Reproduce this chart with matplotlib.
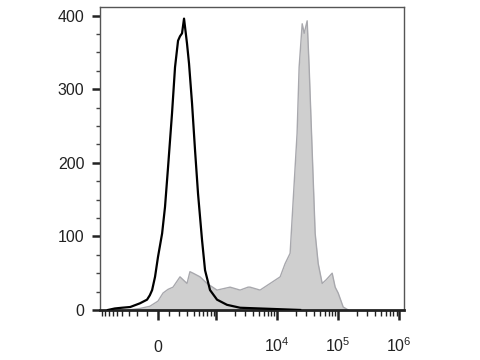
import numpy as np
import matplotlib
matplotlib.use("Agg")
import matplotlib.pyplot as plt
from matplotlib.ticker import FixedLocator, FixedFormatter

plt.rcParams['font.family'] = ['Liberation Sans', 'DejaVu Sans']
plt.rcParams['mathtext.default'] = 'regular'

# ── Data (fluorescence intensity vs. cell count) ──────────────────────────
ctrl_x = [-720, -550, -410, -280, -165, -95, -70, -50, -25, 0, 35, 60, 87,
          124, 154, 186, 208, 232, 257, 297, 326, 373, 425, 482, 568, 641,
          781, 1025, 1500, 2470, 5250, 11200, 23800]
ctrl_y = [0, 2, 3, 4, 9, 14, 20, 27, 45, 72, 104, 140, 194,
          267, 330, 366, 372, 376, 396, 362, 335, 281, 217, 158, 95, 54,
          27, 14, 7, 3, 2, 1, 0]

stain_x = [-310, -165, -70, 0, 43, 87, 134, 208, 297, 340, 390, 524, 694,
           1025, 1690, 2470, 3340, 3600, 5250, 7670, 11200, 13500, 16300,
           18300, 21200, 22900, 25700, 27700, 31000, 33400, 37400, 41900,
           47000, 54600, 63500, 79600, 89100, 99800, 120500, 145600]
stain_y = [0, 2, 5, 12, 23, 28, 31, 45, 36, 52, 50, 45, 36,
           27, 31, 27, 31, 31, 27, 36, 45, 63, 77,
           149, 240, 330, 389, 376, 393, 330, 217, 104,
           63, 36, 41, 50, 31, 23, 4, 0]

x_major = [-1000, 0, 1000, 1e4, 1e5, 1e6]
x_major_labels = ["", "0", "", "$10^4$", "$10^5$", "$10^6$"]
x_minor = ([-900, -800, -700, -600, -500, -400, -300, -200, -100,
            100, 200, 300, 400, 500, 600, 700, 800, 900]
           + [m * 10 ** e for e in (3, 4, 5) for m in range(2, 10)])

C = 224.0


def fwd(x):
    return np.arcsinh(np.asarray(x, dtype=float) / C)


def inv(y):
    return C * np.sinh(np.asarray(y, dtype=float))


fig = plt.figure(figsize=(4.8, 3.6), dpi=100)
ax = fig.add_axes([0.208, 0.139, 0.634, 0.842])
ax.set_xscale("function", functions=(fwd, inv))

ax.fill_between(stain_x, stain_y, 0, color="#cfcfcf", zorder=1, linewidth=0)
ax.plot(stain_x, stain_y, color="#a8a8ad", lw=1.0, zorder=2)
ax.plot(ctrl_x, ctrl_y, color="black", lw=1.6, zorder=3)

ax.set_xlim(-990, 1.2e6)
ax.set_ylim(0, 412)

ax.xaxis.set_major_locator(FixedLocator(x_major))
ax.xaxis.set_major_formatter(FixedFormatter(x_major_labels))
ax.xaxis.set_minor_locator(FixedLocator(x_minor))
ax.yaxis.set_major_locator(FixedLocator([0, 100, 200, 300, 400]))
ax.yaxis.set_minor_locator(FixedLocator(np.arange(0, 401, 25)))

ax.tick_params(axis="x", which="major", length=7, width=1.8, pad=23,
               labelsize=11.5, colors="#222222")
ax.tick_params(axis="x", which="minor", length=4, width=1.0, colors="#222222")
ax.tick_params(axis="y", which="major", length=6, width=1.8, pad=5,
               labelsize=11.5, colors="#222222")
ax.tick_params(axis="y", which="minor", length=3, width=1.0, colors="#444444")

# put the x labels on a common baseline so "0" lines up with the "10"s
for lbl in ax.get_xticklabels():
    lbl.set_verticalalignment("baseline")

for side in ("top", "right", "left"):
    ax.spines[side].set_color("#555555")
    ax.spines[side].set_linewidth(1.0)
ax.spines["bottom"].set_color("#222222")
ax.spines["bottom"].set_linewidth(2.0)

fig.savefig("out.png", dpi=100)
